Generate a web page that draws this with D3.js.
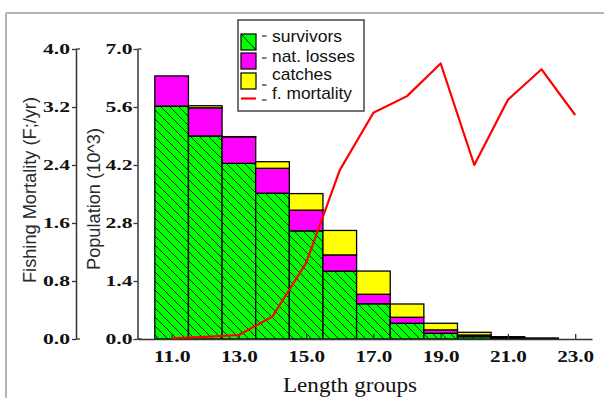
<!DOCTYPE html>
<html>
<head>
<meta charset="utf-8">
<script src="https://cdn.jsdelivr.net/npm/d3@7"></script>
<style>
  html, body { margin: 0; padding: 0; background: #fff; }
  svg { display: block; }
</style>
</head>
<body>
<svg id="chart" width="604" height="398"></svg>
<script>
// Length groups (cm) and population components (thousands)
const lengths    = [11, 12, 13, 14, 15, 16, 17, 18, 19, 20, 21, 22];
const survivors  = [5.62, 4.90, 4.24, 3.52, 2.61, 1.64, 0.85, 0.38, 0.14, 0.056, 0.02, 0.006];
const natLosses  = [0.73, 0.68, 0.64, 0.60, 0.50, 0.39, 0.23, 0.145, 0.08, 0.04, 0.012, 0.004];
const catches    = [0.00, 0.05, 0.005, 0.16, 0.40, 0.59, 0.56, 0.32, 0.16, 0.065, 0.024, 0.014];

// Fishing mortality by length group (F per year)
const fLengths   = [11, 12, 13, 14, 15, 16, 17, 18, 19, 20, 21, 22, 23];
const fMortality = [0.01, 0.03, 0.055, 0.31, 1.05, 2.33, 3.12, 3.35, 3.80, 2.40, 3.30, 3.72, 3.09];

// Axis ticks
const popTicks = [0, 1.4, 2.8, 4.2, 5.6, 7.0];
const fTicks   = [0, 0.8, 1.6, 2.4, 3.2, 4.0];
const xTicks   = [11, 13, 15, 17, 19, 21, 23];

const seriesKeys   = ["survivors", "natLosses", "catches"];
const seriesFills  = ["url(#hatch)", "#ff00ff", "#ffff00"];
const legendLabels = ["survivors", "nat. losses", "catches", "f. mortality"];

const svg = d3.select("#chart");

// Scales
const x    = d3.scaleLinear().domain([10, 23.5]).range([138, 592]);
const yPop = d3.scaleLinear().domain([0, 7]).range([339, 49]);
const yF   = d3.scaleLinear().domain([0, 4]).range([339, 49]);

// Hatch pattern for survivors
const defs = svg.append("defs");
const pat = defs.append("pattern")
  .attr("id", "hatch")
  .attr("patternUnits", "userSpaceOnUse")
  .attr("width", 9).attr("height", 9);
pat.append("rect").attr("width", 9).attr("height", 9).attr("fill", "#00ff00");
pat.append("path")
  .attr("d", "M-1,-1 L10,10 M-2,7 L2,11 M7,-2 L11,2")
  .attr("stroke", "#1a1a1a").attr("stroke-width", 1);

// Outer frame (top and left edges)
svg.append("line").attr("x1", 6).attr("y1", 13).attr("x2", 604).attr("y2", 13)
  .attr("stroke", "#b4b4b4").attr("stroke-width", 2);
svg.append("line").attr("x1", 6).attr("y1", 13).attr("x2", 6).attr("y2", 398)
  .attr("stroke", "#b4b4b4").attr("stroke-width", 2);

// Stacked bars
const table = lengths.map((L, i) => ({
  length: L, survivors: survivors[i], natLosses: natLosses[i], catches: catches[i]
}));
const stacked = d3.stack().keys(seriesKeys)(table);

const barG = svg.append("g");
stacked.forEach((layer, k) => {
  barG.selectAll(null)
    .data(layer)
    .join("rect")
    .attr("x", d => x(d.data.length - 0.5))
    .attr("width", d => x(d.data.length + 0.5) - x(d.data.length - 0.5))
    .attr("y", d => yPop(d[1]))
    .attr("height", d => yPop(d[0]) - yPop(d[1]))
    .attr("fill", seriesFills[k])
    .attr("stroke", "#000")
    .attr("stroke-width", 1.3);
});

// Axis label style helpers
function styleTickText(sel, size, len) {
  sel.selectAll(".tick text")
    .attr("font-family", "'Liberation Serif', 'Times New Roman', serif")
    .attr("font-weight", "bold")
    .attr("font-size", size)
    .attr("fill", "#111")
    .attr("textLength", len)
    .attr("lengthAdjust", "spacingAndGlyphs");
}

// Fishing mortality axis
const axF = svg.append("g").attr("transform", "translate(76,0)")
  .call(d3.axisLeft(yF).tickValues(fTicks).tickFormat(d3.format(".1f"))
    .tickSizeInner(4).tickSizeOuter(0).tickPadding(2));
axF.select(".domain").attr("stroke", "#333").attr("stroke-width", 1.5);
axF.selectAll(".tick line").attr("stroke", "#333").attr("stroke-width", 1.3);
styleTickText(axF, 15.5, 27);

// Population axis
const axP = svg.append("g").attr("transform", "translate(137.5,0)")
  .call(d3.axisLeft(yPop).tickValues(popTicks).tickFormat(d3.format(".1f"))
    .tickSizeInner(4).tickSizeOuter(0).tickPadding(1));
axP.select(".domain").attr("stroke", "#333").attr("stroke-width", 1.5);
axP.selectAll(".tick line").attr("stroke", "#333").attr("stroke-width", 1.3);
styleTickText(axP, 15.5, 27);

// End caps on the vertical axes
[[76, yF], [137.5, yPop]].forEach(([ax, sc]) => {
  sc.range().forEach(yv => {
    svg.append("line").attr("x1", ax).attr("x2", ax + 4).attr("y1", yv).attr("y2", yv)
      .attr("stroke", "#333").attr("stroke-width", 1.3);
  });
});

// Length axis
const axX = svg.append("g").attr("transform", "translate(0,339)")
  .call(d3.axisBottom(x).tickValues(xTicks).tickFormat(d3.format(".1f"))
    .tickSizeInner(-5).tickSizeOuter(0).tickPadding(11));
axX.select(".domain").attr("stroke", "#333").attr("stroke-width", 1.5);
axX.selectAll(".tick line").attr("stroke", "#333").attr("stroke-width", 1.3);
styleTickText(axX, 17, 37);

// Fishing mortality line
const fPoints = fLengths.map((L, i) => [L, fMortality[i]]);
svg.append("path")
  .datum(fPoints)
  .attr("fill", "none")
  .attr("stroke", "#ff0000")
  .attr("stroke-width", 2.2)
  .attr("stroke-linejoin", "round")
  .attr("d", d3.line().x(d => x(d[0])).y(d => yF(d[1])));

// Axis titles
svg.append("text")
  .attr("transform", "translate(35.5,190) rotate(-90)")
  .attr("text-anchor", "middle")
  .attr("font-family", "'Liberation Sans', Arial, sans-serif")
  .attr("font-size", 18).attr("fill", "#2a2a2a")
  .attr("textLength", 186).attr("lengthAdjust", "spacingAndGlyphs")
  .text("Fishing Mortality (F;/yr)");

svg.append("text")
  .attr("transform", "translate(100,199) rotate(-90)")
  .attr("text-anchor", "middle")
  .attr("font-family", "'Liberation Sans', Arial, sans-serif")
  .attr("font-size", 18).attr("fill", "#2a2a2a")
  .attr("textLength", 142).attr("lengthAdjust", "spacingAndGlyphs")
  .text("Population (10^3)");

svg.append("text")
  .attr("x", 350).attr("y", 392)
  .attr("text-anchor", "middle")
  .attr("font-family", "'Liberation Serif', 'Times New Roman', serif")
  .attr("font-size", 22).attr("fill", "#111")
  .attr("textLength", 134).attr("lengthAdjust", "spacingAndGlyphs")
  .text("Length groups");

// Legend
const lg = svg.append("g");
lg.append("rect")
  .attr("x", 238).attr("y", 20).attr("width", 126).attr("height", 91)
  .attr("fill", "#fff").attr("stroke", "#444").attr("stroke-width", 1.5);

const swatchFills = ["#00ff00", "#ff00ff", "#ffff00"];
const rowCenters  = [42, 61, 81];
swatchFills.forEach((c, i) => {
  lg.append("rect")
    .attr("x", 241).attr("y", rowCenters[i] - 8)
    .attr("width", 15).attr("height", 16)
    .attr("fill", c).attr("stroke", "#111").attr("stroke-width", 1.3);
});
lg.append("line")
  .attr("x1", 241).attr("y1", rowCenters[0] - 8).attr("x2", 256).attr("y2", rowCenters[0] + 8)
  .attr("stroke", "#111").attr("stroke-width", 1);
lg.append("line")
  .attr("x1", 241).attr("x2", 256).attr("y1", 98.5).attr("y2", 98.5)
  .attr("stroke", "#ff0000").attr("stroke-width", 2.2);

const dashY = [36, 58, 85, 100];
dashY.forEach(yv => {
  lg.append("line").attr("x1", 262).attr("x2", 266.5).attr("y1", yv).attr("y2", yv)
    .attr("stroke", "#333").attr("stroke-width", 1.3);
});

const textBaselines = [42, 62, 80, 98.5];
const textLens = [70, 83, 60, 80];
legendLabels.forEach((t, i) => {
  lg.append("text")
    .attr("x", 272).attr("y", textBaselines[i])
    .attr("font-family", "'Liberation Sans', Arial, sans-serif")
    .attr("font-size", 17).attr("fill", "#111")
    .attr("textLength", textLens[i]).attr("lengthAdjust", "spacingAndGlyphs")
    .text(t);
});
</script>
</body>
</html>
